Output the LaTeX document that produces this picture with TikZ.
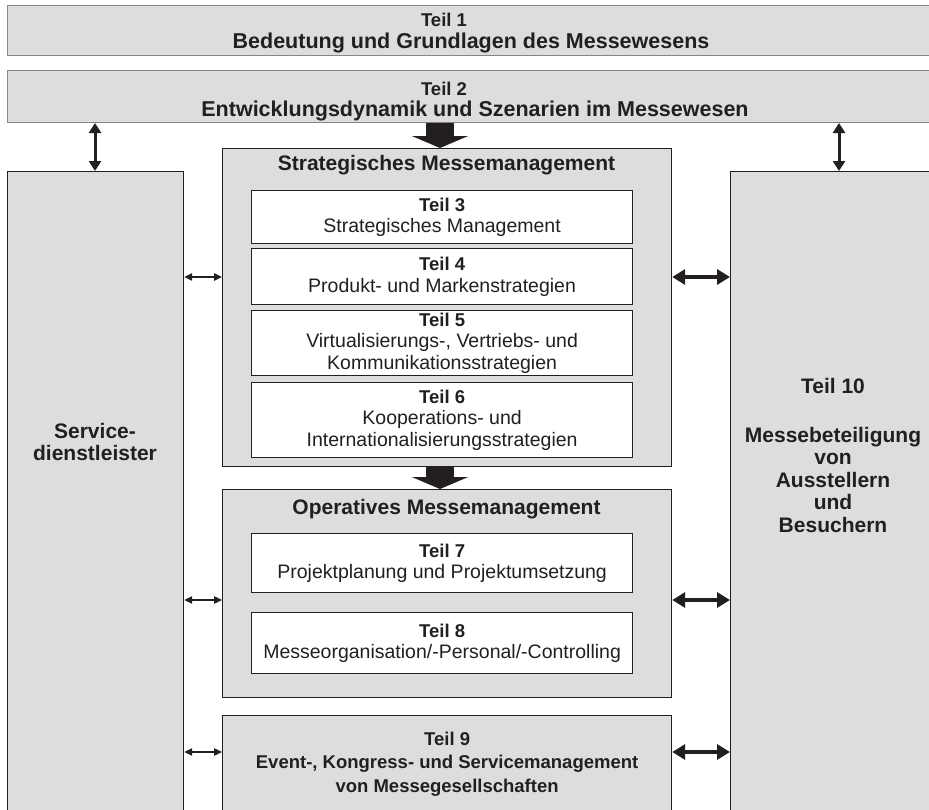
\documentclass[tikz,border=0pt]{standalone}
\usepackage{fontspec}
\setmainfont{Liberation Sans}
\usetikzlibrary{arrows.meta}
\definecolor{boxgray}{RGB}{220,221,223}
\definecolor{ink}{RGB}{35,31,32}
\newcommand\fbig{\bfseries\fontsize{21}{22.5}\selectfont}
\newcommand\ftop{\bfseries\fontsize{21.5}{23}\selectfont}
\newcommand\flbl{\bfseries\fontsize{18.5}{21.5}\selectfont}
\newcommand\freg{\fontsize{19.5}{21.5}\selectfont}
\begin{document}
\begin{tikzpicture}[x=1pt,y=-1pt,
  topbox/.style={draw=ink!55, line width=1pt, fill=boxgray, inner sep=0pt, anchor=north west},
  graybox/.style={draw=ink, line width=1.2pt, fill=boxgray, inner sep=0pt, anchor=north west},
  whitebox/.style={draw=ink, line width=1.2pt, fill=white, inner sep=0pt, anchor=north west, align=center, text=ink, font=\freg},
  label/.style={align=center, text=ink, inner sep=0pt},
  thinarr/.style={draw=ink, line width=1.3pt, {Triangle[length=8pt,width=7.5pt]}-{Triangle[length=8pt,width=7.5pt]}},
  thickarr/.style={draw=ink, line width=4.5pt, {Triangle[length=13pt,width=15pt]}-{Triangle[length=13pt,width=15pt]}},
  vertarr/.style={draw=ink, line width=3pt, {Triangle[length=10pt,width=12pt]}-{Triangle[length=10pt,width=12pt]}},
  blockarr/.style={draw=ink, line width=28pt, -{Triangle[length=12pt,width=56pt]}}
]
\useasboundingbox (0,0) rectangle (929,809);
\clip (0,0) rectangle (929,809);

% top bands
\node[topbox, minimum width=940pt, minimum height=50pt] (t1) at (7,5) {};
\node[topbox, minimum width=940pt, minimum height=52pt] (t2) at (7,70) {};
\node[label, font=\flbl, anchor=base] (t1a) at (444,26.5) {Teil 1};
\node[label, font=\ftop, anchor=base] (t1b) at (471,48) {Bedeutung und Grundlagen des Messewesens};
\node[label, font=\flbl, anchor=base] (t2a) at (444,95) {Teil 2};
\node[label, font=\ftop, anchor=base] (t2b) at (475,116) {Entwicklungsdynamik und Szenarien im Messewesen};

% side columns
\node[graybox, minimum width=176pt, minimum height=660pt] (serv) at (7,171) {};
\node[graybox, minimum width=220pt, minimum height=660pt] (besu) at (730,171) {};
\node[label, font=\fbig] (servtxt) at (95,442) {Service-\\dienstleister};
\node[label, font=\fbig] (besutxt) at (833,455)
  {Teil 10\\[26.5pt]Messebeteiligung\\von\\Ausstellern\\und\\Besuchern};

% strategic block
\node[graybox, minimum width=449pt, minimum height=318pt] (strat) at (222,148) {};
\node[label, font=\fbig] (strattxt) at (446.5,165) {Strategisches Messemanagement};
\node[whitebox, minimum width=381pt, minimum height=53pt] (t3) at (251,190) {{\flbl Teil 3}\\Strategisches Management};
\node[whitebox, minimum width=381pt, minimum height=56pt] (t4) at (251,248) {{\flbl Teil 4}\\Produkt- und Markenstrategien};
\node[whitebox, minimum width=381pt, minimum height=65pt] (t5) at (251,310) {{\flbl Teil 5}\\Virtualisierungs-, Vertriebs- und\\Kommunikationsstrategien};
\node[whitebox, minimum width=381pt, minimum height=75pt] (t6) at (251,382) {{\flbl Teil 6}\\Kooperations- und\\Internationalisierungsstrategien};

% operative block
\node[graybox, minimum width=449pt, minimum height=208pt] (oper) at (222,489) {};
\node[label, font=\fbig] (opertxt) at (446.5,509) {Operatives Messemanagement};
\node[whitebox, minimum width=381pt, minimum height=59pt] (t7) at (251,533) {{\flbl Teil 7}\\Projektplanung und Projektumsetzung};
\node[whitebox, minimum width=381pt, minimum height=61pt] (t8) at (251,612) {{\flbl Teil 8}\\Messeorganisation/-Personal/-Controlling};

% Teil 9
\node[graybox, minimum width=449pt, minimum height=97pt, align=center, text=ink,
  font=\bfseries\fontsize{18.5}{23.5}\selectfont] (t9) at (222,715)
  {Teil 9\\Event-, Kongress- und Servicemanagement\\von Messegesellschaften};

% helper coordinates
\coordinate (ax) at (440,0);
\coordinate (vl) at (95,0);
\coordinate (vr) at (839,0);
\coordinate (ya) at (0,277);
\coordinate (yb) at (0,600);
\coordinate (yc) at (0,752);

% block arrows
\draw[blockarr] (t2.south -| ax) -- (strat.north -| ax);
\draw[blockarr] (strat.south -| ax) -- (oper.north -| ax);

% vertical arrows
\draw[vertarr] (t2.south -| vl) -- (serv.north -| vl);
\draw[vertarr] (t2.south -| vr) -- (besu.north -| vr);

% left thin arrows
\draw[thinarr] (serv.east |- ya) -- (strat.west |- ya);
\draw[thinarr] (serv.east |- yb) -- (oper.west |- yb);
\draw[thinarr] (serv.east |- yc) -- (t9.west |- yc);

% right thick arrows
\draw[thickarr] (strat.east |- ya) -- (besu.west |- ya);
\draw[thickarr] (oper.east |- yb) -- (besu.west |- yb);
\draw[thickarr] (t9.east |- yc) -- (besu.west |- yc);
\end{tikzpicture}
\end{document}
